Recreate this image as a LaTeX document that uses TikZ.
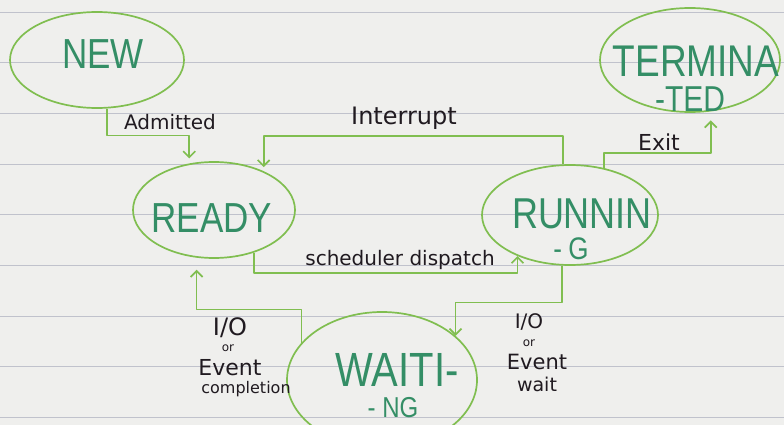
\documentclass[tikz,border=0pt]{standalone}
\usepackage{fontspec}
\usepackage{graphicx}
\usetikzlibrary{arrows.meta,shapes.geometric}
\newfontfamily\statefont{Liberation Sans}
\newfontfamily\handfont{DejaVu Sans}
\definecolor{paper}{RGB}{239,239,237}
\definecolor{ruleline}{RGB}{192,194,204}
\definecolor{pen}{RGB}{128,190,80}
\definecolor{ink}{RGB}{52,142,102}
\definecolor{lbl}{RGB}{32,26,32}
\newcommand{\talltext}[1]{\scalebox{1}[1.2]{#1}}
\begin{document}
\begin{tikzpicture}[x=1pt,y=-1pt,
  stateshape/.style={ellipse,draw=pen,line width=1.7pt,inner sep=0pt},
  statetext/.style={text=ink,inner sep=0pt,font={\statefont\fontsize{#1}{#1}\selectfont}},
  conn/.style={draw=pen,line width=1.7pt,line join=round,-{Straight Barb[length=6pt,width=12pt,line width=1.7pt]}},
  lab/.style={text=lbl,inner sep=0pt,font={\handfont\fontsize{#1}{#1}\selectfont}}]
\useasboundingbox (0,0) rectangle (784,425);
\fill[paper] (0,0) rectangle (784,425);
\foreach \k in {0,...,8} \draw[ruleline,line width=0.9pt] (0,{12+50.7*\k}) -- (784,{12+50.7*\k});
% states
\node[stateshape,minimum width=174pt,minimum height=96pt] (new) at (97,60) {};
\node[stateshape,minimum width=162pt,minimum height=96pt] (ready) at (214,210) {};
\node[stateshape,minimum width=176pt,minimum height=100pt] (run) at (570,215) {};
\node[stateshape,minimum width=180pt,minimum height=104pt] (term) at (690,60) {};
\node[stateshape,minimum width=190pt,minimum height=136pt] (wait) at (382,380) {};
% state texts
\node[statetext=35] (newt) at (103,54) {\talltext{NEW}};
\node[statetext=35] (readyt) at (212,218) {\talltext{READY}};
\node[statetext=36] (runt1) at (582,214) {\talltext{RUNNIN}};
\node[statetext=26] (runt2) at (571,249) {\talltext{-\hspace{0.25em}G}};
\node[statetext=37] (termt1) at (696,61) {\talltext{TERMINA}};
\node[statetext=30] (termt2) at (690,99) {\talltext{-TED}};
\node[statetext=40] (waitt1) at (397,370) {\talltext{WAITI-}};
\node[statetext=24] (waitt2) at (393,408) {\talltext{- NG}};
% connectors
\draw[conn,shorten >=5pt] (new.-78) -- ++(0,27) -| (ready.118);
\draw[conn,shorten >=4pt] (run.98) -- ++(0,-28) -| (ready.38);
\draw[conn,shorten >=9pt] (run.54) -- ++(0,-15) -| (term.-68);
\draw[conn] (ready.-47) -- ++(0,20) -| (run.-142);
\draw[conn] (run.-99) -- ++(0,37) -| (wait.31);
\draw[conn,shorten >=12pt] (wait.155) -- ++(0,-33) -| (ready.-110);
% labels
\node[lab=20] (admlab) at (170,122) {Admitted};
\node[lab=24] (intlab) at (404,118) {Interrupt};
\node[lab=22] (exitlab) at (659,142) {Exit};
\node[lab=20] (schedlab) at (400,260) {scheduler dispatch};
\node[lab=24] (cio) at (230,328) {I/O};
\node[lab=12] (cor) at (228,348) {or};
\node[lab=22] (cev) at (230,368) {Event};
\node[lab=16] (ccomp) at (246,389) {completion};
\node[lab=20] (wio) at (529,322) {I/O};
\node[lab=12] (wor) at (529,343) {or};
\node[lab=21] (wev) at (537,362) {Event};
\node[lab=19] (wwait) at (537,384) {wait};
\end{tikzpicture}
\end{document}
